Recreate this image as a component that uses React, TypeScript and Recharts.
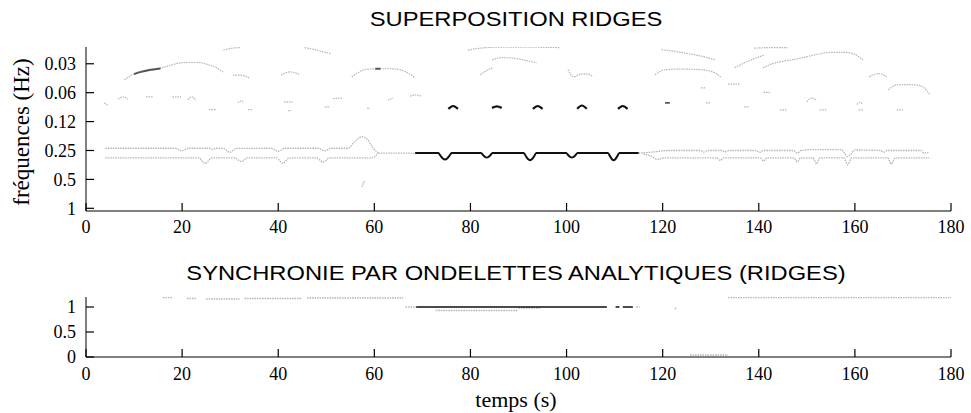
import React from 'react';
import { LineChart, Line, XAxis, YAxis } from 'recharts';

type Pt = [number, number];

// axes
const timeTicks = [0, 20, 40, 60, 80, 100, 120, 140, 160, 180];
const freqTicks = [0.03125, 0.0625, 0.125, 0.25, 0.5, 1];
const freqLabels = ['0.03', '0.06', '0.12', '0.25', '0.5', '1'];
const syncTicks = [0, 0.5, 1];
const syncLabels = ['0', '0.5', '1'];

// ridges, [time (s), frequency (Hz)]
const pairLeftUpper: Pt[] = [
  [4, 0.237], [18.6, 0.237], [19.3, 0.245], [19.9, 0.252], [20.6, 0.245], [21.3, 0.237],
  [25.8, 0.237], [26.4, 0.245], [27, 0.237], [28.6, 0.238], [29.3, 0.25], [29.9, 0.262],
  [30.6, 0.25], [31.3, 0.238], [38.6, 0.237], [39.3, 0.247], [39.9, 0.255], [40.6, 0.247],
  [41.3, 0.237], [48.4, 0.237], [49.1, 0.247], [49.7, 0.252], [50.4, 0.245], [51, 0.237],
  [54.5, 0.237], [56, 0.2], [57.4, 0.18], [58.5, 0.19], [59.7, 0.235], [60.8, 0.266],
];
const pairLeftLower: Pt[] = [
  [4, 0.298], [23.5, 0.298], [24.1, 0.32], [24.8, 0.34], [25.5, 0.32], [26.1, 0.298],
  [31, 0.298], [31.7, 0.315], [32.3, 0.325], [32.9, 0.315], [33.5, 0.298], [39.7, 0.298],
  [40.3, 0.32], [41, 0.34], [41.6, 0.32], [42.3, 0.298], [48, 0.298], [48.7, 0.315],
  [49.3, 0.33], [50, 0.315], [50.6, 0.298], [59.5, 0.298], [60.8, 0.266],
];
const mergedGrey: Pt[] = [[60.8, 0.266], [68.5, 0.266]];
const mergedDark: Pt[] = [
  [68.5, 0.266], [73.3, 0.266], [73.8, 0.285], [74.3, 0.305], [74.7, 0.31], [75.1, 0.305],
  [75.6, 0.285], [76.1, 0.266], [82.2, 0.266], [82.7, 0.282], [83.1, 0.293], [83.4, 0.295],
  [83.7, 0.293], [84.1, 0.282], [84.6, 0.266], [91.1, 0.266], [91.6, 0.29], [92.1, 0.31],
  [92.4, 0.315], [92.7, 0.31], [93.2, 0.29], [93.7, 0.266], [99.9, 0.266], [100.4, 0.282],
  [100.8, 0.293], [101.1, 0.295], [101.4, 0.293], [101.8, 0.282], [102.3, 0.266],
  [108.6, 0.266], [109.1, 0.29], [109.5, 0.31], [109.8, 0.315], [110.1, 0.31], [110.5, 0.29],
  [111, 0.266], [115, 0.266],
];
const pairRightUpper: Pt[] = [
  [115, 0.266], [117, 0.262], [119, 0.256], [121, 0.25], [127.8, 0.25], [128.6, 0.26],
  [129.4, 0.25], [132.2, 0.25], [133, 0.258], [133.8, 0.25], [139.4, 0.25], [140.2, 0.262],
  [141, 0.25], [147.2, 0.25], [148, 0.266], [148.8, 0.25], [151, 0.245], [157.2, 0.245],
  [157.9, 0.27], [158.5, 0.29], [159.2, 0.27], [160, 0.247], [165.3, 0.25], [166, 0.26],
  [166.7, 0.25], [173.7, 0.25], [174.4, 0.266], [175.3, 0.262],
];
const pairRightLower: Pt[] = [
  [116, 0.272], [117.5, 0.285], [119, 0.31], [120.5, 0.298], [131.3, 0.298], [132, 0.318],
  [132.7, 0.298], [140.3, 0.298], [141, 0.322], [141.7, 0.298], [147.3, 0.298], [148, 0.328],
  [148.7, 0.298], [151.3, 0.298], [152, 0.345], [152.7, 0.298], [157.7, 0.298], [158.5, 0.352],
  [159.3, 0.298], [166.8, 0.298], [167.6, 0.345], [168.4, 0.298], [175.5, 0.298],
];

const highArcs: Pt[][] = [
  [[8, 0.046], [9.5, 0.041], [11, 0.038], [13, 0.036], [15, 0.035], [17, 0.033], [19, 0.031],
    [21, 0.0303], [23.5, 0.0303], [25.5, 0.032], [27, 0.034], [28.5, 0.038]],
  [[28.6, 0.0225], [30.5, 0.0215], [32, 0.0212]],
  [[30.6, 0.041], [32.2, 0.041], [34, 0.044]],
  [[40.6, 0.041], [42.4, 0.038], [44.3, 0.04]],
  [[45.5, 0.0212], [47.5, 0.0222], [49.5, 0.0235], [51, 0.0245]],
  [[55.3, 0.0428], [56.5, 0.039], [58, 0.036], [60.8, 0.0352], [63, 0.0352], [65.3, 0.036],
    [67, 0.039], [68.5, 0.0438]],
  [[79.5, 0.0225], [82, 0.0215], [86, 0.021], [92, 0.021], [98.6, 0.0212]],
  [[84.5, 0.0284], [86.5, 0.027], [88.5, 0.0272], [90.3, 0.028], [92, 0.0292], [93.8, 0.0305]],
  [[82, 0.0407], [83.3, 0.037], [84.7, 0.0344]],
  [[100.3, 0.036], [101.5, 0.0428], [103, 0.04], [104.5, 0.04], [105.5, 0.0428]],
  [[119.8, 0.0223], [122.5, 0.0232], [125.3, 0.0245], [128, 0.026], [130.9, 0.0284]],
  [[118.4, 0.0407], [120.5, 0.0361], [124, 0.0355], [128.2, 0.0361], [130.9, 0.039], [132.3, 0.0438]],
  [[135, 0.0344], [137.3, 0.03], [139.6, 0.027], [141, 0.0255]],
  [[139, 0.0215], [142.5, 0.0212], [146, 0.0212]],
  [[140.9, 0.0344], [143, 0.031], [146, 0.029], [149.2, 0.027], [152, 0.025], [155, 0.0238],
    [158, 0.0238], [160, 0.025], [161.7, 0.0284]],
  [[163, 0.0428], [164.8, 0.0395], [166.7, 0.0428]],
  [[166.9, 0.0584], [168.7, 0.052], [171, 0.0515], [172.9, 0.052], [174.5, 0.056], [175.6, 0.0659]],
];
const highDark: Pt[][] = [
  [[10, 0.04], [11.5, 0.038], [13, 0.0365], [15.5, 0.035]],
  [[60.2, 0.0352], [61.3, 0.0352]],
  [[120.5, 0.08], [121.5, 0.08]],
];
const midDots: Pt[][] = [
  [[3.8, 0.08], [4.5, 0.084]],
  [[6.7, 0.073], [7.7, 0.069], [8.7, 0.073]],
  [[12.5, 0.069], [14, 0.069]],
  [[18, 0.069], [19.8, 0.069]],
  [[21.2, 0.074], [22, 0.069], [22.9, 0.075]],
  [[25.6, 0.094], [27, 0.094]],
  [[31.6, 0.08], [32.2, 0.076], [32.9, 0.08]],
  [[33.7, 0.094], [34.7, 0.094]],
  [[41.2, 0.078], [43, 0.078]],
  [[42, 0.096], [42.7, 0.096]],
  [[49.7, 0.088], [50.8, 0.088]],
  [[51.4, 0.072], [53.3, 0.071]],
  [[58.5, 0.091], [59.1, 0.091]],
  [[62.8, 0.075], [63.9, 0.071]],
  [[67.4, 0.068], [68.5, 0.066], [69.9, 0.068]],
  [[128, 0.0557], [129, 0.0557]],
  [[129, 0.08], [130, 0.08]],
  [[133.6, 0.051], [136, 0.051]],
  [[137, 0.088], [138, 0.088]],
  [[141, 0.062], [142.3, 0.062]],
  [[144.4, 0.0946], [145.9, 0.0946]],
  [[150, 0.078], [151, 0.0708], [152, 0.075]],
  [[152.7, 0.0946], [154.2, 0.0946]],
  [[160.4, 0.083], [161, 0.079], [161.7, 0.083]],
  [[160.8, 0.0946], [161.7, 0.0946]],
  [[168.7, 0.0946], [170, 0.0946]],
  [[57.4, 0.6], [58, 0.51]],
];
const darkCaps: Pt[][] = [
  [[75.4, 0.092], [76.4, 0.086], [77.4, 0.092]],
  [[84.5, 0.09], [85.5, 0.087], [86.5, 0.09]],
  [[93, 0.092], [94, 0.086], [95, 0.092]],
  [[102.2, 0.092], [103.2, 0.085], [104.2, 0.092]],
  [[110.7, 0.092], [111.7, 0.086], [112.7, 0.092]],
];

// synchrony, [time (s), value]
const syncBlack: Pt[][] = [
  [[68.7, 1], [108.4, 1]],
  [[110.2, 1], [111, 1]],
  [[111.7, 1], [113.8, 1]],
];
const syncGrey: Pt[][] = [
  [[16, 1.19], [18, 1.19]],
  [[21, 1.17], [23, 1.17]],
  [[25, 1.16], [32, 1.16]],
  [[33, 1.17], [45, 1.17]],
  [[46, 1.18], [66, 1.18]],
  [[66.5, 1], [68.7, 1]],
  [[72.8, 0.93], [90, 0.93]],
  [[90, 0.98], [94.5, 0.98]],
  [[114.5, 1], [115.2, 1]],
  [[122.5, 0.97], [123, 0.97]],
  [[125.7, 0.04], [133.6, 0.04]],
  [[133.6, 1.19], [180, 1.19]],
];

// segments -> one series with null breaks
const toSeries = (segs: Pt[][]) => {
  const out: { t: number; v: number | null }[] = [];
  segs.forEach((seg, i) => {
    if (i > 0) out.push({ t: seg[0][0], v: null });
    seg.forEach(([t, v]) => out.push({ t, v }));
  });
  return out;
};

const serif = 'Liberation Serif, Times New Roman, serif';
const sans = 'Liberation Sans, Arial, sans-serif';
const GREY = '#b4b4b4';
const TICK = 8;

// inward tick marks (matlab style), with optional label outside
const makeTick = (side: 'bottom' | 'top' | 'left' | 'right', margin: number, labelOf?: (v: number) => string) =>
  (props: any) => {
    const x = Number(props.x);
    const y = Number(props.y);
    const label = labelOf ? labelOf(props.payload.value) : '';
    let d = '';
    let text: React.ReactNode = null;
    if (side === 'bottom') {
      d = `M${x},${y - margin}V${y - margin - TICK}`;
      text = (
        <text x={x} y={y} dy="0.71em" textAnchor="middle" fontFamily={serif} fontSize={18} fill="#000">
          {label}
        </text>
      );
    } else if (side === 'top') {
      d = `M${x},${y + margin}V${y + margin + TICK}`;
    } else if (side === 'left') {
      d = `M${x + margin},${y}H${x + margin + TICK}`;
      text = (
        <text x={x} y={y} dy="0.35em" textAnchor="end" fontFamily={serif} fontSize={18} fill="#000">
          {label}
        </text>
      );
    } else {
      d = `M${x - margin},${y}H${x - margin - TICK}`;
    }
    return (
      <g>
        <path d={d} stroke="#000" strokeWidth={1.2} fill="none" />
        {text}
      </g>
    );
  };

export default function App() {
  const ridge = (data: any[], key: string, color: string, width: number, dash?: string) => (
    <Line
      key={key}
      data={data}
      dataKey="v"
      xAxisId="b"
      yAxisId="l"
      type="monotone"
      stroke={color}
      strokeWidth={width}
      strokeDasharray={dash}
      dot={false}
      activeDot={false}
      connectNulls={false}
      isAnimationActive={false}
    />
  );

  const axes = (yTicks: number[], yLabels: string[], yDomain: number[], log: boolean, xMargin: number) => [
    <XAxis
      key="xb"
      xAxisId="b"
      type="number"
      dataKey="t"
      domain={[0, 180]}
      ticks={timeTicks}
      interval={0}
      allowDataOverflow
      height={30}
      tickSize={0}
      tickLine={false}
      tickMargin={xMargin}
      tick={makeTick('bottom', xMargin, (v) => String(v))}
      stroke="#000"
    />,
    <XAxis
      key="xt"
      xAxisId="t"
      orientation="top"
      type="number"
      domain={[0, 180]}
      ticks={timeTicks}
      interval={0}
      allowDataOverflow
      height={0}
      tickSize={0}
      tickLine={false}
      tickMargin={0}
      tick={makeTick('top', 0)}
      stroke="#000"
    />,
    <YAxis
      key="yl"
      yAxisId="l"
      type="number"
      scale={log ? 'log' : 'linear'}
      reversed={log}
      domain={yDomain}
      allowDataOverflow
      ticks={yTicks}
      interval={0}
      width={60}
      tickSize={0}
      tickLine={false}
      tickMargin={10}
      tick={makeTick('left', 10, (v) => yLabels[yTicks.indexOf(v)] ?? '')}
      stroke="#000"
    />,
    <YAxis
      key="yr"
      yAxisId="r"
      orientation="right"
      type="number"
      scale={log ? 'log' : 'linear'}
      reversed={log}
      domain={yDomain}
      allowDataOverflow
      ticks={yTicks}
      interval={0}
      width={0}
      tickSize={0}
      tickLine={false}
      tickMargin={0}
      tick={makeTick('right', 0)}
      stroke="#000"
    />,
  ];

  return (
    <div style={{ position: 'absolute', left: 0, top: 0, width: 971, height: 413, background: '#fff' }}>
      <div style={{ position: 'absolute', left: 0, top: 0 }}>
        <LineChart width={971} height={241} margin={{ top: 47, right: 20, bottom: 0, left: 26 }}>
          {axes(freqTicks, freqLabels, [0.0209, 1.067], true, 9)}
          {ridge(toSeries([pairLeftUpper, pairLeftLower, mergedGrey, pairRightUpper, pairRightLower]), 'pairs', GREY, 1.3, '1.5 1')}
          {ridge(toSeries(highArcs), 'high', GREY, 1.2, '1.5 1')}
          {ridge(toSeries(midDots), 'mid', GREY, 1.2, '1.5 1')}
          {ridge(toSeries(highDark), 'highDark', '#555', 1.8)}
          {ridge(toSeries([mergedDark]), 'merged', '#111', 2)}
          {ridge(toSeries(darkCaps), 'caps', '#111', 2.2)}
        </LineChart>
      </div>
      <div style={{ position: 'absolute', left: 0, top: 250 }}>
        <LineChart width={971} height={137} margin={{ top: 47, right: 20, bottom: 0, left: 26 }}>
          {axes(syncTicks, syncLabels, [0, 1.2], false, 10)}
          {ridge(toSeries(syncGrey), 'syncGrey', GREY, 1.3, '1.5 1')}
          {ridge(toSeries(syncBlack), 'syncBlack', '#111', 1.6)}
        </LineChart>
      </div>
      <svg width={971} height={413} style={{ position: 'absolute', left: 0, top: 0, pointerEvents: 'none' }}>
        <text
          textAnchor="middle"
          dominantBaseline="central"
          fontFamily={sans}
          fontSize={21}
          transform="translate(516 19) scale(1.13 1)"
        >
          SUPERPOSITION RIDGES
        </text>
        <text
          textAnchor="middle"
          dominantBaseline="central"
          fontFamily={sans}
          fontSize={21}
          transform="translate(516 273) scale(1.13 1)"
        >
          SYNCHRONIE PAR ONDELETTES ANALYTIQUES (RIDGES)
        </text>
        <text x={516} y={399} textAnchor="middle" dominantBaseline="central" fontFamily={serif} fontSize={22}>
          temps (s)
        </text>
        <text
          x={21}
          y={132}
          textAnchor="middle"
          dominantBaseline="central"
          fontFamily={serif}
          fontSize={23}
          transform="rotate(-90 21 132)"
        >
          fréquences (Hz)
        </text>
      </svg>
    </div>
  );
}
